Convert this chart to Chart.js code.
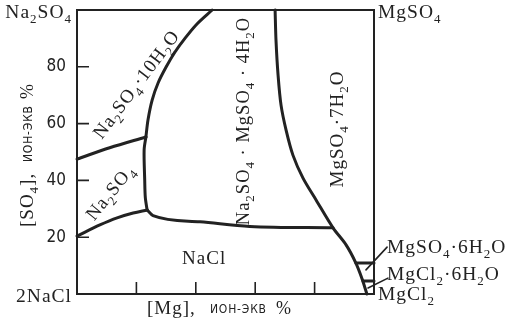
<!DOCTYPE html>
<html>
<head>
<meta charset="utf-8">
<script src="https://cdn.jsdelivr.net/npm/chart.js@4.4.1/dist/chart.umd.min.js"></script>
<style>
  html, body { margin: 0; padding: 0; background: #fff; }
</style>
</head>
<body>
<canvas id="diagram" width="509" height="322"></canvas>
<script>
// boundary curves as [Mg, SO4] in ion-equivalent %
const decahydrateLeft = [[0, 47.5], [11, 51.5], [23.2, 55.3]];
const sulfateAstrakanite = [[23.2, 55.3], [22.6, 50.7], [22.8, 40.0], [23.0, 34.0], [23.6, 29.6]];
const decahydrateAstrakanite = [[23.2, 55.3], [23.9, 61.3], [25.3, 68.3], [27.3, 74.3], [30.0, 79.9], [33.0, 85.2], [36.4, 90.1], [40.4, 95.1], [45.5, 100]];
const sulfateNaCl = [[0, 20.4], [7.7, 24.3], [13.5, 26.8], [18.9, 28.5], [23.6, 29.6]];
const astrakaniteNaCl = [[23.6, 29.6], [25.6, 27.6], [41.4, 25.4], [58.2, 23.8], [86.2, 23.3]];
const astrakaniteEpsomite = [[66.7, 100], [67.0, 89.4], [67.7, 77.1], [68.7, 66.5], [70.4, 57.7], [72.7, 48.9], [76.1, 40.8], [80.5, 33.1], [86.2, 23.3]];
const epsomiteNaCl = [[86.2, 23.3], [90.6, 17.3], [93.9, 10.9], [96.0, 5.3], [97.6, 0]];
const hexahydrateTop = [[93.9, 10.9], [100, 10.9]];
const bischofiteTop = [[96.3, 4.6], [100, 4.6]];
const leaderHexahydrate = [[104.4, 16.5], [97.3, 8.5]];
const leaderBischofite = [[104.7, 5.6], [98.0, 2.1]];

const yTicks = [20, 40, 60, 80];
const xTicks = [20, 40, 60, 80];

const ink = '#222';
const serif = '"Liberation Serif", "Times New Roman", serif';
const narrow = '"Liberation Sans Narrow", "DejaVu Sans Condensed", "Liberation Sans", sans-serif';

// field names, placed in data space
const fieldLabels = [
  { text: 'NaCl', x: 42.8, y: 12.7, rot: 0, size: 19 },
  { text: 'Na_2SO_4·10H_2O', x: 19.9, y: 73.9, rot: -53, size: 19 },
  { text: 'Na_2SO_4', x: 11.1, y: 35.9, rot: -51, size: 19 },
  { text: 'Na_2SO_4 · MgSO_4 · 4H_2O', x: 55.9, y: 60.9, rot: -90, size: 18.5 },
  { text: 'MgSO_4·7H_2O', x: 87.5, y: 58.1, rot: -90, size: 19 }
];

// corner names, offsets in px from a data point
const cornerLabels = [
  { text: 'Na_2SO_4', x: 0, y: 100, dx: -5, dy: 8, align: 'right' },
  { text: 'MgSO_4', x: 100, y: 100, dx: 4, dy: 8, align: 'left' },
  { text: '2NaCl', x: 0, y: 0, dx: -5, dy: 8, align: 'right' },
  { text: 'MgSO_4·6H_2O', x: 100, y: 0, dx: 13, dy: -41, align: 'left' },
  { text: 'MgCl_2·6H_2O', x: 100, y: 0, dx: 13, dy: -14, align: 'left' },
  { text: 'MgCl_2', x: 100, y: 0, dx: 4, dy: 6, align: 'left' }
];

const unitText = 'ион-экв';

function toPoints(arr) {
  return arr.map(p => ({ x: p[0], y: p[1] }));
}

function splitFormula(str) {
  return str.split(/(_\d)/).filter(Boolean).map(s =>
    s[0] === '_' ? { t: s.slice(1), sub: true } : { t: s, sub: false });
}

function drawFormula(ctx, str, x, y, size, align) {
  const parts = splitFormula(str);
  const fontFor = sub => (sub ? Math.round(size * 0.68) : size) + 'px ' + serif;
  let total = 0;
  parts.forEach(p => {
    ctx.font = fontFor(p.sub);
    p.w = ctx.measureText(p.t).width;
    total += p.w;
  });
  let cx = align === 'center' ? x - total / 2 : align === 'right' ? x - total : x;
  ctx.textAlign = 'left';
  ctx.textBaseline = 'alphabetic';
  parts.forEach(p => {
    ctx.font = fontFor(p.sub);
    ctx.fillText(p.t, cx, y + (p.sub ? size * 0.27 : 0));
    cx += p.w;
  });
  return total;
}

// the unit is set in small capitals in the original
function drawSmallCaps(ctx, str, x, y, size) {
  ctx.save();
  ctx.font = size + 'px ' + narrow;
  if ('letterSpacing' in ctx) ctx.letterSpacing = '0.8px';
  ctx.textAlign = 'left';
  ctx.textBaseline = 'alphabetic';
  ctx.fillText(str.toUpperCase(), x, y);
  ctx.restore();
}

const diagramPlugin = {
  id: 'diagram',
  beforeDatasetsDraw(chart) {
    const { ctx, chartArea: a, scales: { x, y } } = chart;
    ctx.save();
    ctx.strokeStyle = ink;
    ctx.lineWidth = 2;
    ctx.strokeRect(a.left, a.top, a.right - a.left, a.bottom - a.top);
    ctx.lineWidth = 1.6;
    ctx.beginPath();
    yTicks.forEach(v => {
      const py = y.getPixelForValue(v);
      ctx.moveTo(a.left, py);
      ctx.lineTo(a.left + 12, py);
    });
    xTicks.forEach(v => {
      const px = x.getPixelForValue(v);
      ctx.moveTo(px, a.bottom);
      ctx.lineTo(px, a.bottom - 12);
    });
    ctx.stroke();
    ctx.restore();
  },
  afterDraw(chart) {
    const { ctx, chartArea: a, scales: { x, y } } = chart;
    ctx.save();
    ctx.fillStyle = ink;
    if ('letterSpacing' in ctx) ctx.letterSpacing = '1px';

    fieldLabels.forEach(l => {
      ctx.save();
      ctx.translate(x.getPixelForValue(l.x), y.getPixelForValue(l.y));
      ctx.rotate(l.rot * Math.PI / 180);
      drawFormula(ctx, l.text, 0, l.size * 0.33, l.size, 'center');
      ctx.restore();
    });

    cornerLabels.forEach(l => {
      drawFormula(ctx, l.text, x.getPixelForValue(l.x) + l.dx, y.getPixelForValue(l.y) + l.dy, 19.5, l.align);
    });

    // x axis title
    const bx = a.bottom + 20;
    drawFormula(ctx, '[Mg],', a.left + 70, bx, 19, 'left');
    drawSmallCaps(ctx, unitText, a.left + 133, bx - 1, 12);
    drawFormula(ctx, '%', a.left + 199, bx, 18, 'left');

    // y axis title, rotated
    ctx.save();
    ctx.translate(33, a.bottom - 67);
    ctx.rotate(-Math.PI / 2);
    drawFormula(ctx, '[SO_4],', 0, 0, 19, 'left');
    drawSmallCaps(ctx, unitText, 65, -1, 12);
    drawFormula(ctx, '%', 128, 0, 18, 'left');
    ctx.restore();

    ctx.restore();
  }
};

function curve(arr, mode) {
  return {
    data: toPoints(arr),
    showLine: true,
    borderColor: ink,
    borderWidth: 3,
    pointRadius: 0,
    tension: mode === 'smooth' ? 0.3 : 0,
    cubicInterpolationMode: mode === 'monotone' ? 'monotone' : 'default',
    borderCapStyle: 'round',
    borderJoinStyle: 'round',
    clip: false
  };
}

function thin(arr) {
  return Object.assign(curve(arr, 'straight'), { borderWidth: 1.6 });
}

new Chart(document.getElementById('diagram'), {
  type: 'scatter',
  data: {
    datasets: [
      curve(decahydrateLeft, 'monotone'),
      curve(sulfateAstrakanite, 'smooth'),
      curve(decahydrateAstrakanite, 'smooth'),
      curve(sulfateNaCl, 'monotone'),
      curve(astrakaniteNaCl, 'monotone'),
      curve(astrakaniteEpsomite.concat(epsomiteNaCl.slice(1)), 'smooth'),
      curve(hexahydrateTop, 'straight'),
      curve(bischofiteTop, 'straight'),
      thin(leaderHexahydrate),
      thin(leaderBischofite)
    ]
  },
  options: {
    responsive: false,
    animation: false,
    layout: { padding: { top: 10, right: 135, bottom: 28, left: 0 } },
    plugins: {
      legend: { display: false },
      tooltip: { enabled: false }
    },
    scales: {
      x: { type: 'linear', min: 0, max: 100, display: false },
      y: {
        type: 'linear',
        min: 0,
        max: 100,
        grid: { display: false, drawTicks: false },
        border: { display: false },
        afterBuildTicks: s => { s.ticks = yTicks.map(v => ({ value: v })); },
        afterFit: s => { s.width = 77; s.paddingTop = 0; s.paddingBottom = 0; },
        ticks: { padding: 11, color: ink, font: { family: narrow, size: 17 } }
      }
    }
  },
  plugins: [diagramPlugin]
});
</script>
</body>
</html>
